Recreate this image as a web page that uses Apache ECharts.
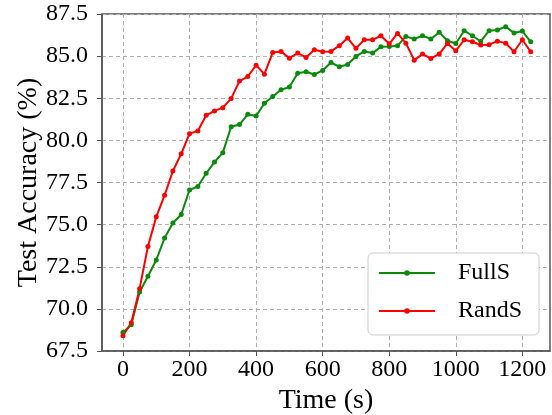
<!DOCTYPE html>
<html>
<head>
<meta charset="utf-8">
<script src="https://cdn.jsdelivr.net/npm/echarts@6/dist/echarts.min.js"></script>
<style>html,body{margin:0;padding:0;background:#fff}#c{width:552px;height:415px}</style>
</head>
<body>
<div id="c"></div>
<script>
const times = [0,25,50,75,100,125,150,175,200,225,250,275,300,325,350,375,400,425,450,475,
  500,525,550,575,600,625,650,675,700,725,750,775,800,825,850,875,900,925,950,975,
  1000,1025,1050,1075,1100,1125,1150,1175,1200,1225];
const fullS = [68.6,69.06,71.0,71.94,72.9,74.2,75.1,75.6,77.06,77.26,78.05,78.71,79.27,80.81,80.94,81.55,81.45,82.2,82.6,83.0,
  83.17,83.99,84.07,83.91,84.15,84.62,84.37,84.5,84.98,85.28,85.18,85.56,85.57,85.62,86.17,86.02,86.21,86.02,86.41,85.91,
  85.75,86.51,86.21,85.87,86.51,86.55,86.75,86.37,86.49,85.85];
const randS = [68.4,69.18,71.2,73.7,75.46,76.74,78.18,79.2,80.4,80.56,81.49,81.75,81.94,82.48,83.52,83.79,84.46,83.93,85.22,85.28,
  84.88,85.18,84.92,85.38,85.26,85.28,85.62,86.07,85.46,85.97,85.97,86.21,85.73,86.35,85.77,84.76,85.12,84.86,85.12,85.75,
  85.32,85.97,85.85,85.66,85.68,85.89,85.77,85.26,85.97,85.26];
const xTicks = [0,200,400,600,800,1000,1200];
const seriesNames = ['FullS','RandS'];

const font = 'Liberation Serif, Times New Roman, serif';
const chart = echarts.init(document.getElementById('c'), null, {renderer:'canvas'});
const mk = (name, vals, color) => ({
  name, type:'line', data: times.map((t,i)=>[t, vals[i]]),
  symbol:'circle', symbolSize:5, showSymbol:true,
  lineStyle:{color, width:2}, itemStyle:{color}, animation:false
});
chart.setOption({
  animation:false,
  backgroundColor:'#fff',
  grid:{left:102, right:2, top:14, bottom:64, outerBoundsMode:'none', containLabel:false,
    show:true, borderColor:'#555', borderWidth:1.5, backgroundColor:'transparent'},
  xAxis:{
    type:'value', min:-63, max:1283,
    name:'Time (s)', nameLocation:'middle', nameGap:36, nameMoveOverlap:false,
    nameTextStyle:{fontFamily:font, fontSize:28, color:'#000'},
    axisLine:{show:true, onZero:false, lineStyle:{color:'#555', width:1.5}},
    axisTick:{show:true, inside:false, length:5, customValues:xTicks, lineStyle:{color:'#555'}},
    axisLabel:{customValues:xTicks, formatter:v=>String(v), fontFamily:font, fontSize:24, color:'#000', margin:7},
    splitLine:{show:true, lineStyle:{color:'#b0b0b0', type:[4,3], width:1}}
  },
  yAxis:{
    type:'value', min:67.5, max:87.5, interval:2.5,
    name:'Test Accuracy (%)', nameLocation:'middle', nameGap:59, nameMoveOverlap:false,
    nameTextStyle:{fontFamily:font, fontSize:28, color:'#000'},
    axisLine:{show:true, onZero:false, lineStyle:{color:'#555', width:1.5}},
    axisTick:{show:true, inside:false, length:5, lineStyle:{color:'#555'}},
    axisLabel:{formatter:v=>v.toFixed(1), fontFamily:font, fontSize:24, color:'#000', margin:14},
    splitLine:{show:true, lineStyle:{color:'#b0b0b0', type:[4,3], width:1}}
  },
  legend:{
    data:seriesNames, orient:'vertical', left:368, top:253,
    padding:[8,17,12,10], itemWidth:56, itemHeight:7, itemGap:14,
    backgroundColor:'#fff', borderColor:'#ccc', borderWidth:1, borderRadius:5,
    textStyle:{fontFamily:font, fontSize:24, color:'#000', padding:[0,0,0,18]}
  },
  series:[mk(seriesNames[0], fullS, '#0a8a0a'), mk(seriesNames[1], randS, '#ff0000')]
});
</script>
</body>
</html>
